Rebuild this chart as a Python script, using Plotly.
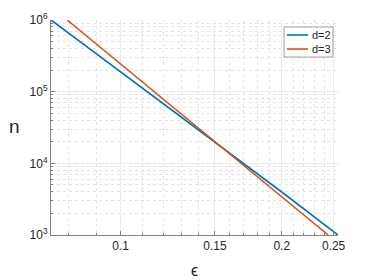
import plotly.graph_objects as go

eps_d2 = [0.0741, 0.10, 0.15, 0.20, 0.2548]
n_d2 = [1.0e6, 1.88e5, 1.97e4, 3.98e3, 1.0e3]
eps_d3 = [0.0794, 0.10, 0.15, 0.20, 0.2443]
n_d3 = [1.0e6, 2.41e5, 2.0e4, 3.41e3, 1.0e3]
names = ["d=2", "d=3"]
colors = ["#0072BD", "#D95319"]

x_ticks = [0.1, 0.15, 0.2, 0.25]
x_ticktext = ["0.1", "0.15", "0.2", "0.25"]
x_minor = [0.08, 0.09, 0.11, 0.12, 0.13, 0.14, 0.16, 0.17, 0.18, 0.19,
           0.21, 0.22, 0.23, 0.24]
y_ticks = [1e3, 1e4, 1e5, 1e6]
y_ticktext = ["10<sup>3</sup>", "10<sup>4</sup>", "10<sup>5</sup>", "10<sup>6</sup>"]
y_minor = [m * 10 ** e for e in (3, 4, 5) for m in range(2, 10)]

FAM = "Liberation Sans, Arial, sans-serif"
TXT = "#262626"

fig = go.Figure()
for xs, ys, nm, c in [(eps_d2, n_d2, names[0], colors[0]), (eps_d3, n_d3, names[1], colors[1])]:
    fig.add_trace(go.Scatter(x=xs, y=ys, mode="lines", name=nm,
                             line=dict(color=c, width=1.6), showlegend=False))

font = dict(family=FAM, size=12, color=TXT)
axis_common = dict(
    showline=True, linecolor="#808080", linewidth=1,
    ticks="inside", ticklen=4, tickcolor="#808080",
    showgrid=True, gridcolor="#ebebeb", gridwidth=1,
    zeroline=False, mirror=False, tickfont=font, automargin=False,
)

fig.update_xaxes(
    type="log", range=[-1.1303, -0.5938],
    tickmode="array", tickvals=x_ticks, ticktext=x_ticktext,
    minor=dict(tickvals=x_minor, ticks="inside", ticklen=2, tickcolor="#808080",
               showgrid=True, gridcolor="#e3e3e3", griddash="dot", gridwidth=1),
    **axis_common,
)
fig.update_yaxes(
    type="log", range=[3, 6],
    tickmode="array", tickvals=y_ticks, ticktext=y_ticktext,
    minor=dict(tickvals=y_minor, ticks="inside", ticklen=2, tickcolor="#808080",
               showgrid=True, gridcolor="#e3e3e3", griddash="dot", gridwidth=1),
    **axis_common,
)

# page has an 8px body margin; plot area (page px) x 51..338, y 20..235
W, H = 287.0, 215.0
def px(xp):
    return (xp - 51) / W
def py(yp):
    return 1 - (yp - 20) / H

annotations = [
    dict(text="n", x=px(14), y=py(127), xref="paper", yref="paper",
         showarrow=False, font=dict(family=FAM, size=19, color=TXT),
         xanchor="center", yanchor="middle"),
    dict(text="ϵ", x=px(194), y=py(270), xref="paper", yref="paper",
         showarrow=False, font=dict(family=FAM, size=16, color=TXT),
         xanchor="center", yanchor="middle"),
]
shapes = [
    dict(type="rect", xref="paper", yref="paper",
         x0=px(284), x1=px(333), y0=py(57), y1=py(27),
         line=dict(color="#a0a0a0", width=1), fillcolor="white", layer="above"),
]
for i, (nm, c) in enumerate(zip(names, colors)):
    yc = 35 + i * 14
    shapes.append(dict(type="line", xref="paper", yref="paper",
                       x0=px(287), x1=px(308), y0=py(yc), y1=py(yc),
                       line=dict(color=c, width=1.6), layer="above"))
    annotations.append(dict(text=nm, x=px(310), y=py(yc), xref="paper", yref="paper",
                            showarrow=False, font=dict(family=FAM, size=11, color=TXT),
                            xanchor="left", yanchor="middle"))

fig.update_layout(
    width=366, height=272,
    margin=dict(l=43, r=36, t=12, b=45, autoexpand=False),
    paper_bgcolor="white", plot_bgcolor="white",
    showlegend=False,
    annotations=annotations, shapes=shapes,
)

fig.write_html("out.html")
